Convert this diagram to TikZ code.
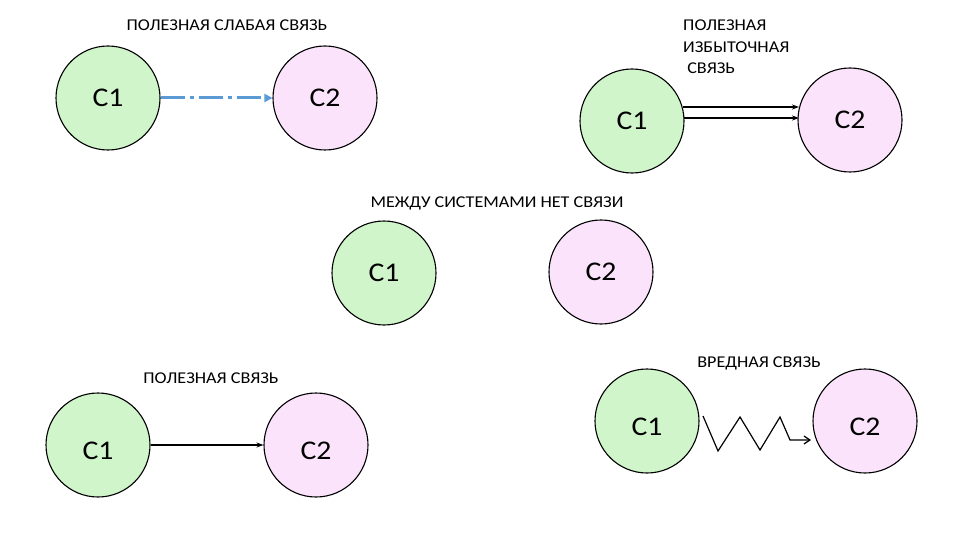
\documentclass[tikz,border=0pt]{standalone}
\usepackage{fontspec}
\setmainfont{Carlito}[FakeStretch=1.1]
\usetikzlibrary{arrows.meta}
\definecolor{sysgreen}{RGB}{208,245,202}
\definecolor{syspink}{RGB}{251,228,251}
\definecolor{weakblue}{RGB}{91,155,213}
\begin{document}
\begin{tikzpicture}[x=1pt,y=-1pt,
  sysfont/.style={font=\fontsize{27}{29}\selectfont},
  sys/.style={circle,draw=black,line width=1.1pt,minimum size=104pt,inner sep=0pt,sysfont},
  sysA/.style={sys,fill=sysgreen},
  sysB/.style={sys,fill=syspink},
  lowtext/.style={label={[sysfont,inner sep=0pt,yshift=-6pt]center:#1}},
  lbl/.style={font=\fontsize{16.5}{21.5}\selectfont,inner sep=0pt},
  link/.style={line width=1.2pt,-{Stealth[length=7pt,width=5pt]}}]
\useasboundingbox (0,0) rectangle (960,540);
% top left: weak useful link
\node[sysA] (a1) at (108,98) {C1};
\node[sysB] (a2) at (325,98) {C2};
\node[lbl] (ta) at (227,25) {ПОЛЕЗНАЯ СЛАБАЯ СВЯЗЬ};
\draw[weakblue,line width=3pt,dash pattern=on 24pt off 5pt on 4pt off 5pt,-{Triangle[length=8pt,width=8pt]}] (a1) -- (a2);
% top right: redundant useful link
\node[sysA] (b1) at (632,121) {C1};
\node[sysB] (b2) at (850,120) {C2};
\node[lbl,align=left,anchor=north west] (tb) at (683,20) {ПОЛЕЗНАЯ\\ИЗБЫТОЧНАЯ\\\ СВЯЗЬ};
\coordinate (b1u) at (683,107);
\coordinate (b2u) at (799,107);
\coordinate (b1d) at (684,118);
\coordinate (b2d) at (799,118);
\draw[link] (b1u) -- (b2u);
\draw[link] (b1d) -- (b2d);
% middle: no link
\node[sysA] (c1) at (384,273) {C1};
\node[sysB] (c2) at (601,272) {C2};
\node[lbl] (tc) at (497,203) {МЕЖДУ СИСТЕМАМИ НЕТ СВЯЗИ};
% bottom left: useful link
\node[sysA,lowtext=C1] (d1) at (98,445) {};
\node[sysB,lowtext=C2] (d2) at (316,445) {};
\node[lbl] (td) at (211,378) {ПОЛЕЗНАЯ СВЯЗЬ};
\draw[link] (d1) -- (d2);
% bottom right: harmful link
\node[sysA,lowtext=C1] (e1) at (647,421) {};
\node[sysB,lowtext=C2] (e2) at (865,421) {};
\node[lbl] (te) at (759,363) {ВРЕДНАЯ СВЯЗЬ};
\coordinate (z0) at (703,416);
\coordinate (zend) at (811,440);
\draw[line width=1.2pt,line join=miter,-{Straight Barb[length=6pt,width=8pt]}] (z0) -- (718,451) -- (740,417) -- (760,450) -- (780,417) -- (790,440) -- (zend);
\end{tikzpicture}
\end{document}
